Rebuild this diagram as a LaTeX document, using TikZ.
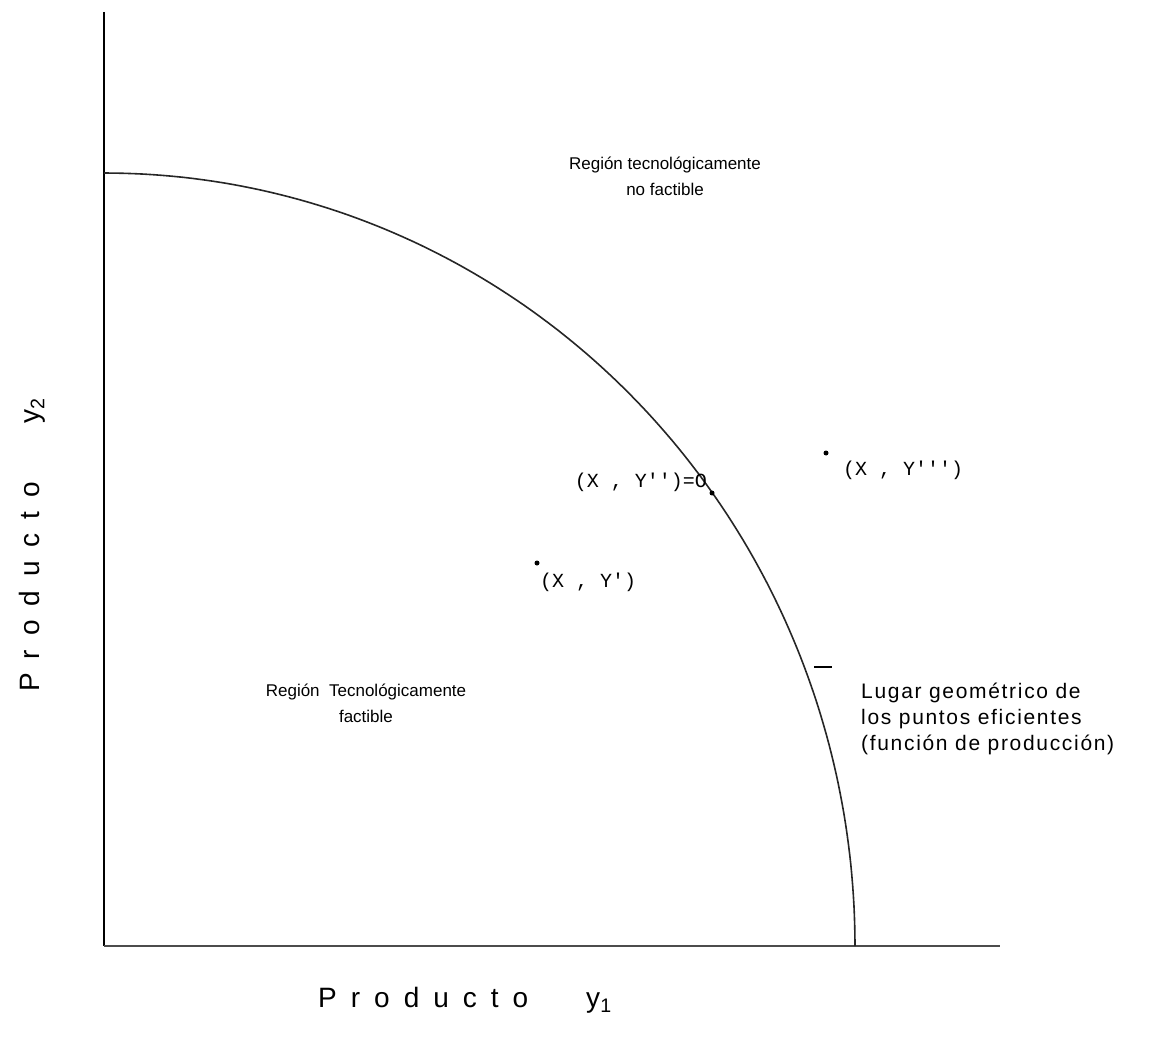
\documentclass[tikz,border=0pt]{standalone}
\usepackage{fontspec}
\setmainfont{Liberation Sans}
\setmonofont{Liberation Mono}
\begin{document}
\begin{tikzpicture}[x=1pt,y=-1pt,
  lbl/.style={inner sep=0pt, font=\fontsize{17}{26}\selectfont},
  lbltwo/.style={inner sep=0pt, font=\fontsize{21}{26}\selectfont\addfontfeatures{LetterSpace=8}},
  pt/.style={inner sep=0pt, font=\fontsize{20}{22}\ttfamily},
  axt/.style={inner sep=0pt, font=\fontsize{28}{30}\selectfont},
  dotmark/.style={circle, fill=black, inner sep=0pt, minimum size=5pt},
  axis/.style={line width=2.2pt, black},
  frontier/.style={line width=1.6pt, black!85}]
\useasboundingbox (0,0) rectangle (1161,1048);
% axes
\coordinate (O) at (104,946);
\coordinate (ytop) at (104,12);
\coordinate (xend) at (1000,946);
\draw[axis] (ytop) -- (O);
\draw[line width=1.8pt, black!70] (O) -- (xend);
% frontier (quarter ellipse)
\draw[frontier] plot[domain=0:90, samples=120] ({104+751*cos(\x)},{946-773*sin(\x)});
% points
\node[dotmark] (pA) at (712,493) {};
\node[dotmark] (pB) at (826,453) {};
\node[dotmark] (pC) at (537,563) {};
% labels
\node[lbl, align=center] (nofact) at (665,176) {Región tecnológicamente\\no factible};
\node[lbl, align=center] (fact) at (366,703) {Región\ \ Tecnológicamente\\factible};
\node[lbltwo, align=left, anchor=west] (lugar) at (861,719) {Lugar geométrico de\\los puntos eficientes\\(función de producción)};
\coordinate (tickL) at (814,667);
\coordinate (tickR) at (832,667);
\draw[line width=1.3pt] (tickL) -- (tickR);
\node[pt, anchor=east] (lA) at (707,482) {(X , Y\textquotesingle\textquotesingle)=O};
\node[pt, anchor=west] (lB) at (843,470) {(X , Y\textquotesingle\textquotesingle\textquotesingle)};
\node[pt, anchor=west] (lC) at (540,582) {(X , Y\textquotesingle)};
% axis titles
\node[axt, anchor=west] (xt) at (318,1000) {P\hspace{14pt}r\hspace{14pt}o\hspace{14pt}d\hspace{14pt}u\hspace{14pt}c\hspace{14pt}t\hspace{14pt}o\hspace{58pt}y\textsubscript{1}};
\node[axt, anchor=west, rotate=90] (yt) at (32,692) {P\hspace{14pt}r\hspace{14pt}o\hspace{14pt}d\hspace{14pt}u\hspace{14pt}c\hspace{14pt}t\hspace{14pt}o\hspace{58pt}y\textsubscript{2}};
\end{tikzpicture}
\end{document}
